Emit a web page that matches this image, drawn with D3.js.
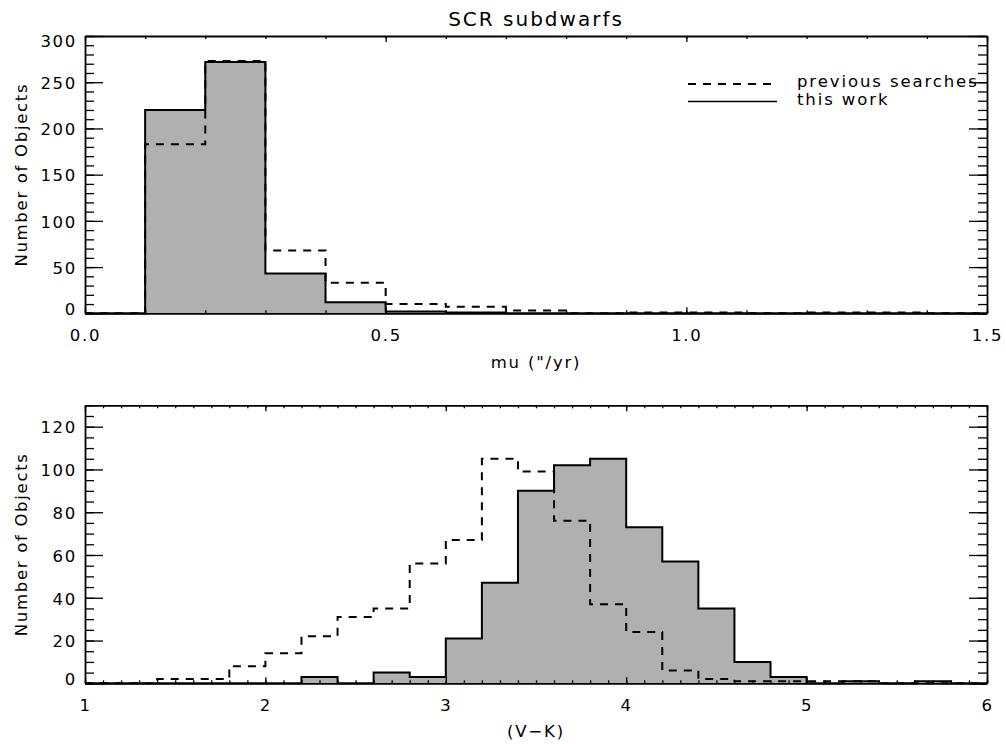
<!DOCTYPE html>
<html>
<head>
<meta charset="utf-8">
<script src="https://cdn.jsdelivr.net/npm/d3@7"></script>
<style>
  body { margin: 0; background: #fff; }
  text { font-family: "DejaVu Sans", sans-serif; fill: #000; }
</style>
</head>
<body>
<svg id="svg"></svg>
<script>
// SCR subdwarfs: proper motion and colour histograms, this work vs previous searches

// top panel: mu bins of 0.1 "/yr
const muEdges = [0.0, 0.1, 0.2, 0.3, 0.4, 0.5, 0.6, 0.7, 0.8, 0.9, 1.0, 1.1, 1.2, 1.3, 1.4, 1.5];
const muThisWork = [0, 220, 272, 43, 12, 2, 1, 0, 0, 0, 0, 0, 0, 0, 0];
const muPrevious = [0, 183, 273, 68, 33, 10, 7, 3, 0, 1, 1, 0, 1, 1, 0];
const muTicks = [0.0, 0.5, 1.0, 1.5];
const muCountTicks = [0, 50, 100, 150, 200, 250, 300];

// bottom panel: (V-K) bins of 0.2 mag
const vkEdges = [1.0, 1.2, 1.4, 1.6, 1.8, 2.0, 2.2, 2.4, 2.6, 2.8, 3.0, 3.2, 3.4, 3.6, 3.8,
                 4.0, 4.2, 4.4, 4.6, 4.8, 5.0, 5.2, 5.4, 5.6, 5.8, 6.0];
const vkThisWork = [0, 0, 0, 0, 0, 0, 3, 0, 5, 3, 21, 47, 90, 102, 105, 73, 57, 35, 10, 3, 0, 1, 0, 1, 0];
const vkPrevious = [0, 0, 2, 2, 8, 14, 22, 31, 35, 56, 67, 105, 99, 76, 37, 24, 6, 2, 1, 1, 1, 1, 0, 0, 0];
const vkTicks = [1, 2, 3, 4, 5, 6];
const vkCountTicks = [0, 20, 40, 60, 80, 100, 120];

const width = 1006;
const height = 744;

const svg = d3.select('#svg')
  .attr('width', width)
  .attr('height', height);

const left = 85, right = 987;
const fontSize = 16.5;

// turn a bin list into step points
function steps(edges, values) {
  const pts = values.map((v, i) => [edges[i], v]);
  pts.push([edges[edges.length - 1], values[values.length - 1]]);
  return pts;
}

function panel(opts) {
  const g = svg.append('g');

  const x = d3.scaleLinear().domain(opts.xDomain).range([left, right]);
  const y = d3.scaleLinear().domain(opts.yDomain).range([opts.bottom, opts.top]);

  const solidPts = steps(opts.edges, opts.thisWork);
  const dashPts = steps(opts.edges, opts.previous);

  const area = d3.area()
    .x(d => x(d[0]))
    .y0(y(0))
    .y1(d => y(d[1]))
    .curve(d3.curveStepAfter);

  const line = d3.line()
    .x(d => x(d[0]))
    .y(d => y(d[1]))
    .curve(d3.curveStepAfter);

  g.append('path')
    .attr('d', area(solidPts))
    .attr('fill', '#b0b0b0');

  g.append('path')
    .attr('d', line(dashPts))
    .attr('fill', 'none')
    .attr('stroke', '#000')
    .attr('stroke-width', 2)
    .attr('stroke-dasharray', '8,7');

  g.append('path')
    .attr('d', line(solidPts))
    .attr('fill', 'none')
    .attr('stroke', '#000')
    .attr('stroke-width', 2);

  // minor ticks
  const xMinor = d3.range(opts.xDomain[0], opts.xDomain[1] + 1e-9, opts.xMinorStep);
  const yMinor = d3.range(opts.yDomain[0], opts.yDomain[1] + 1e-9, opts.yMinorStep);

  const axes = [
    [d3.axisBottom(x), d3.axisBottom(x), opts.bottom, 'x', true],
    [d3.axisTop(x), d3.axisTop(x), opts.top, 'x', false],
    [d3.axisLeft(y), d3.axisLeft(y), left, 'y', true],
    [d3.axisRight(y), d3.axisRight(y), right, 'y', false]
  ];

  axes.forEach(([axis, minorAxis, pos, dim, labels]) => {
    const isX = dim === 'x';
    const majorLen = isX ? 6 : 18;
    const minorLen = isX ? 3 : 9;
    const translate = isX ? `translate(0,${pos})` : `translate(${pos},0)`;

    g.append('g')
      .attr('transform', translate)
      .call(minorAxis.tickValues(isX ? xMinor : yMinor).tickSize(-minorLen).tickSizeOuter(0).tickFormat(''))
      .call(s => s.select('.domain').remove())
      .call(s => s.selectAll('line').attr('stroke-width', 1.3));

    const ax = g.append('g')
      .attr('transform', translate)
      .call(axis
        .tickValues(isX ? opts.xTicks : opts.yTicks)
        .tickSize(-majorLen)
        .tickSizeOuter(0)
        .tickPadding(isX ? 16 : 8)
        .tickFormat(labels ? (isX ? opts.xFormat : d3.format('d')) : ''));
    ax.select('.domain').attr('stroke-width', 1.8);
    ax.selectAll('line').attr('stroke-width', 1.3);
    ax.selectAll('text')
      .attr('font-family', '"DejaVu Sans", sans-serif')
      .attr('font-size', fontSize)
      .attr('letter-spacing', '1.7px');
    if (labels && !isX) {
      ax.selectAll('.tick text')
        .attr('y', d => d === opts.yDomain[0] ? -4 : (d === opts.yDomain[1] ? 5 : 1));
    }
  });

  // axis titles
  g.append('text')
    .attr('x', (left + right) / 2)
    .attr('y', opts.xTitleY)
    .attr('text-anchor', 'middle')
    .attr('font-size', fontSize)
    .attr('letter-spacing', '1.8px')
    .text(opts.xTitle);

  g.append('text')
    .attr('transform', `translate(${opts.yTitleX},${(opts.top + opts.bottom) / 2}) rotate(-90)`)
    .attr('text-anchor', 'middle')
    .attr('font-size', fontSize)
    .attr('letter-spacing', '1.7px')
    .text('Number of Objects');

  return { g, x, y };
}

// Title
svg.append('text')
  .attr('x', (left + right) / 2)
  .attr('y', 26)
  .attr('text-anchor', 'middle')
  .attr('font-size', 20)
  .attr('letter-spacing', '2px')
  .text('SCR subdwarfs');

panel({
  xDomain: [0, 1.5], yDomain: [0, 300],
  top: 36, bottom: 313.3,
  edges: muEdges, thisWork: muThisWork, previous: muPrevious,
  xTicks: muTicks, yTicks: muCountTicks,
  xMinorStep: 0.1, yMinorStep: 10,
  xFormat: d3.format('.1f'),
  xTitle: 'mu ("/yr)', xTitleY: 368, yTitleX: 27
});

panel({
  xDomain: [1, 6], yDomain: [0, 130],
  top: 405.3, bottom: 683.3,
  edges: vkEdges, thisWork: vkThisWork, previous: vkPrevious,
  xTicks: vkTicks, yTicks: vkCountTicks,
  xMinorStep: 0.1, yMinorStep: 5,
  xFormat: d3.format('d'),
  xTitle: '(V\u2212K)', xTitleY: 737, yTitleX: 27
});

// legend (top panel)
const legend = svg.append('g');
legend.append('line')
  .attr('x1', 688).attr('x2', 777).attr('y1', 84).attr('y2', 84)
  .attr('stroke', '#000').attr('stroke-width', 2).attr('stroke-dasharray', '8,7');
legend.append('line')
  .attr('x1', 688).attr('x2', 777).attr('y1', 101.5).attr('y2', 101.5)
  .attr('stroke', '#000').attr('stroke-width', 1.5);
legend.append('text')
  .attr('x', 797).attr('y', 87)
  .attr('font-size', fontSize).attr('letter-spacing', '1.9px')
  .text('previous searches');
legend.append('text')
  .attr('x', 797).attr('y', 105)
  .attr('font-size', fontSize).attr('letter-spacing', '1.9px')
  .text('this work');
</script>
</body>
</html>
